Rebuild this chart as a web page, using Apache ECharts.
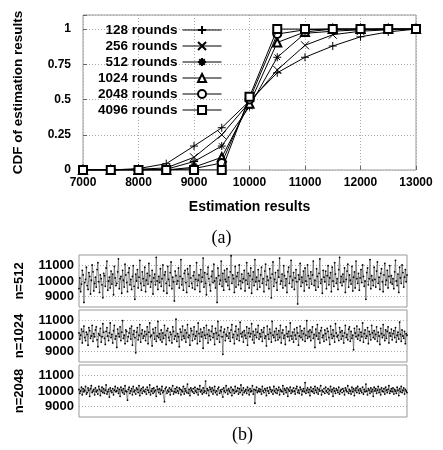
<!DOCTYPE html>
<html><head><meta charset="utf-8">
<script src="https://cdn.jsdelivr.net/npm/echarts@6/dist/echarts.min.js"></script>
<style>html,body{margin:0;padding:0;background:#fff}#c{width:443px;height:450px}</style>
</head><body><div id="c"></div>
<script>
// ---- (a) CDF chart data ----
const estimates = [7000,7500,8000,8500,9000,9500,10000,10500,11000,11500,12000,12500,13000];
const roundLabels = ['128 rounds','256 rounds','512 rounds','1024 rounds','2048 rounds','4096 rounds'];
const cdf128  = [0,0,0.01,0.045,0.17,0.30,0.49,0.69,0.80,0.88,0.945,0.98,1];
const cdf256  = [0,0,0.005,0.015,0.09,0.25,0.48,0.71,0.885,0.96,0.985,0.995,1];
const cdf512  = [0,0,0,0.005,0.06,0.17,0.45,0.80,0.97,0.985,0.995,1,1];
const cdf1024 = [0,0,0,0,0.02,0.09,0.47,0.905,0.98,1,1,1,1];
const cdf2048 = [0,0,0,0,0.01,0.05,0.50,0.965,0.995,1,1,1,1];
const cdf4096 = [0,0,0,0,0,0,0.52,1,1,1,1,1,1];
const xTicks = [7000,8000,9000,10000,11000,12000,13000];
const yTicks = [0,0.25,0.5,0.75,1];

// ---- (b) per-run estimation results ----
const panelNames = ['n=512','n=1024','n=2048'];
const panelTicks = [9000,10000,11000];
const run512 = [
9500,10200,9300,9800,10700,10400,8600,9900,10100,10900,9700,9450,10550,10300,9150,10050,11050,10600,9350,9850,
10250,9600,10750,11200,9950,9250,10400,10150,9750,8900,10500,10350,9650,10850,11300,9400,10000,10250,9550,10650,
9800,10450,9100,10950,10200,9700,9850,10600,11450,9500,10150,10300,9200,10700,10050,9600,11100,10400,9900,9300,
10550,10850,9750,10100,9450,10300,11000,9650,8800,10450,10000,10750,9550,10250,11350,9850,9400,10600,10150,9700,
10900,9300,10050,10500,9800,11150,10350,9600,9950,10700,9150,10200,10450,9750,11550,10000,9450,10300,9900,10800,
9650,10150,11050,9350,10400,10600,9850,9200,10950,10100,9700,10550,11250,9500,10250,9950,8700,10650,10350,9800,
10000,10850,9550,10300,11400,9750,10150,9400,10500,10700,9900,9250,10800,10450,9650,11000,10200,9850,9550,10350,
10600,9450,10100,11200,9700,10050,10400,9300,10750,9950,10250,11500,9600,10550,9850,9100,10450,10900,10150,9750,
9350,10300,10650,9900,11100,10000,9550,10200,8600,10850,10350,9800,10050,11300,9650,10500,9400,10700,10100,9950,
10800,9700,10250,9450,10600,11650,9850,10400,10150,9250,10950,9600,10300,10550,9750,11050,10000,9500,10450,9900,
10150,10700,9350,10050,11200,9800,10500,9550,10350,10850,9200,10100,10600,9700,11400,9950,10250,9450,10750,10000,
9600,10400,10900,9850,10150,9300,10650,11100,9750,10300,10050,9500,10800,10200,8900,10450,11250,9650,10100,10550,
9900,9400,10700,10250,11500,9800,10000,10450,9550,11000,10350,9700,10150,9250,10600,10900,9850,10300,11350,9600,
10050,10550,9450,10200,10750,9950,8500,10400,10100,11150,9650,10250,9900,10650,9350,10850,10000,9750,11050,10350,
9550,10150,10600,9800,10400,11300,9700,10050,9400,10800,10300,9600,10500,11450,9850,10100,9200,10700,10250,9950,
10650,9500,10350,11000,9750,10200,10550,9300,10900,10000,9650,11200,10450,9850,10150,9450,10750,11550,9900,10300,
9700,10450,9950,10850,9250,10100,10650,11100,9600,10400,10050,9800,10950,9350,10250,10600,9550,11300,10150,9850,
10500,9400,10200,10750,9900,11050,10300,9650,10000,8800,10550,10850,9750,10150,11400,9500,10350,10050,9700,10900,
10100,9600,10650,11250,9850,10250,9450,10500,10800,9950,9300,10400,11150,9750,10050,10700,9550,10300,11000,9900,
10350,9800,10150,9500,10600,11350,10000,9700,10450,9250,10900,10200,9850,11050,10550,9600,10250,10750,9950,10400];
const run1024 = [
10200,9800,10050,10450,9550,10300,10650,9900,9700,10250,10100,9400,10550,10350,9850,10000,10700,9650,10150,9950,
10400,10600,9750,9300,10150,10050,10500,9600,9950,10800,10250,9850,9450,10300,10550,10000,9700,10200,10850,9900,
10100,9550,10350,10700,9800,10000,9250,10450,10150,9950,10600,9700,10250,11000,9850,10050,9500,10400,10300,9650,
9950,10200,10500,9800,10650,9400,10100,10350,9900,8900,10250,10550,9750,10050,10750,9600,10150,10400,9850,10000,
10300,9700,10100,10600,9500,10250,10850,9950,10050,9350,10450,10200,9800,10550,9650,10000,10950,9900,10150,9750,
10400,9600,10200,9850,10700,10050,9450,10350,10500,9900,9700,10250,10100,9550,10600,10300,9800,10000,11100,9650,
10150,9950,9300,10450,10250,9750,10650,10000,9850,10400,9600,10200,10750,9900,10050,9400,10500,10350,9700,10100,
10600,9800,10000,10300,9500,10850,10150,9650,10450,9950,10250,9200,10550,10050,9850,10700,10100,9550,10400,10000,
9750,10300,10650,9900,10150,9450,10500,10200,9800,10950,10050,9600,10350,10600,9950,8800,10250,10450,9700,10100,
10000,10550,9850,10200,9650,10400,10750,9900,10100,9500,10300,10650,9800,10050,10450,9700,10900,10150,9950,10250,
9600,10350,10050,9850,10600,9400,10200,10500,9950,10150,10800,9750,10300,9550,10050,10450,9900,10250,10700,9800,
10150,9950,10400,9650,10250,10550,9850,10000,9350,10650,10100,9800,10450,10200,9600,10950,10050,9900,10300,9700,
10500,10100,9750,10350,9900,10700,9550,10200,10400,9850,10050,9450,10600,10150,9950,10300,9700,10850,10000,9800,
10250,9600,10450,10050,9800,10550,10200,9400,10000,10650,9900,10350,9750,10150,10500,9650,10050,11000,9850,10300,
9950,10400,9700,10250,10600,9850,10100,9250,10450,10000,10750,9800,10200,9550,10350,10550,9900,10050,9650,10400,
10150,9750,10500,10300,9900,9450,10650,10100,9850,10400,10000,9600,10800,10200,9950,10050,9700,10550,10250,9800,
10350,10000,9550,10200,10700,9900,10100,9750,10450,10600,9650,10300,9850,10050,9100,10500,10200,9950,10650,9800,
10050,10450,9700,10250,9950,10850,9600,10150,10400,9850,10000,10550,9500,10300,10100,9750,10700,10200,9900,10350,
9800,10100,10600,9650,10250,10000,9450,10500,10150,9900,10750,10050,9700,10400,9850,10300,10600,9550,10200,10000,
10450,9750,10150,10350,9900,10550,9600,10050,10250,9800,10900,10100,9650,10400,10000,9850,10300,9500,10150,10050];
const run2048 = [
10100,9850,10000,10250,9750,10150,9950,10050,10300,9800,9900,10200,10050,9650,10150,10350,9900,10000,10100,9750,
10200,9950,10050,9800,10300,10100,9700,10000,10250,9900,10150,9850,10050,10400,9800,9950,10100,9600,10200,10000,
9900,10150,9750,10050,10300,9950,10000,10200,9850,10100,9650,10250,10050,9900,10150,9800,10350,10000,9950,9400,
10100,10250,9850,10000,10150,9750,10300,9950,10050,9800,10200,10100,9900,10350,9700,10050,10150,9850,10250,10000,
9950,10100,9800,10250,10050,9900,10400,9750,10000,10150,9850,10200,9950,10050,9650,10300,10100,9900,10150,9800,
10050,10300,9900,10000,9300,10150,10250,9850,10050,9950,10200,9750,10100,10000,10350,9800,9950,10150,9900,10250,
10000,9850,10200,10100,9750,10050,9950,10300,9800,10150,10000,9900,10450,9850,10100,9700,10200,10050,9950,10150,
9850,10250,10000,9900,10150,9750,10100,10350,9950,10050,9800,10200,9900,10000,10650,9850,10150,10050,9700,10250,
10100,9950,10200,9800,10050,10300,9900,10000,9750,10150,10250,9850,10050,9950,10100,9600,10200,10000,9900,10350,
10050,9800,10150,10000,9900,10250,9700,10100,10050,9850,10300,9950,10000,10200,9800,10150,9900,10400,10050,9750,
10200,9900,10000,10100,9850,10250,10050,9750,10150,9950,10000,10350,9800,10100,9200,10050,10250,9900,10000,10150,
9950,10100,9800,10300,10000,9900,10150,10050,9700,10200,10000,9850,10250,10100,9950,10050,9800,10300,10000,9900,
10150,9850,10050,10250,9750,10100,10000,9950,10350,9800,10150,10050,9900,10200,9650,10100,10000,10250,9850,10050,
9950,10200,10000,9800,10150,10300,9900,10050,9850,10250,10100,9750,10000,10150,9950,10550,9850,10050,10200,9900,
10100,9700,10250,10000,9950,10150,9850,10300,10050,9900,10200,9800,10100,10000,10350,9750,10050,9950,10150,9850,
10250,10000,9900,10150,9800,10050,10300,9950,10100,9650,10200,10000,9850,10150,10050,9900,10250,9800,10000,10100,
9900,10150,10000,9750,10200,10050,9950,10350,9850,10100,10000,9800,10250,9950,10150,9700,10050,10200,9900,10300,
10050,9850,10150,10000,9900,10250,9800,10100,9950,10450,10000,9750,10150,10050,9850,10200,9950,10100,9650,10250,
10000,10150,9850,10050,10300,9900,10100,9750,10200,10000,9950,10150,9800,10250,10050,9900,10100,10350,9850,10000,
10150,9950,10200,9800,10100,10000,9850,10250,10050,9700,10150,9950,10300,9900,10050,10200,9800,10100,10000,9900];

const cdfs = [cdf128,cdf256,cdf512,cdf1024,cdf2048,cdf4096];
const runs = [run512,run1024,run2048];

const FONT = 'Liberation Sans';
const symbols = [
  'path://M0,5L10,5M5,0L5,10',
  'path://M0,0L10,10M0,10L10,0',
  'path://M0,5L10,5M5,0L5,10M1.5,1.5L8.5,8.5M1.5,8.5L8.5,1.5',
  'emptyTriangle','emptyCircle','emptyRect'
];
const gridLine = {show:true, lineStyle:{color:'#aaa', type:[1,2], width:1}};

const grids = [{left:83, right:27, top:15, height:155, show:true, borderColor:'#999', borderWidth:1}];
const panelTops = [255,310,365];
panelTops.forEach(t => grids.push({left:79, right:36, top:t, height:52, show:true, borderColor:'#999', borderWidth:1}));

const xAxes = [{
  gridIndex:0, type:'value', min:7000, max:13000, interval:1000,
  name:'Estimation results', nameLocation:'middle', nameGap:30,
  nameTextStyle:{fontFamily:FONT, fontWeight:'bold', fontSize:14, color:'#000'},
  axisLine:{show:false}, axisTick:{show:true, inside:true, length:4, lineStyle:{color:'#666'}},
  axisLabel:{fontFamily:FONT, fontWeight:'bold', fontSize:12, color:'#000', margin:7,
    formatter: v => xTicks.includes(v) ? String(v) : ''},
  splitLine:gridLine
}];
const yAxes = [{
  gridIndex:0, type:'value', min:0, max:1.1, interval:0.25,
  name:'CDF of estimation results', nameLocation:'middle', nameGap:58,
  nameTextStyle:{fontFamily:FONT, fontWeight:'bold', fontSize:13.5, color:'#000'},
  axisLine:{show:false}, axisTick:{show:true, inside:true, length:4, lineStyle:{color:'#666'}},
  axisLabel:{fontFamily:FONT, fontWeight:'bold', fontSize:12, color:'#000', margin:12,
    formatter: v => yTicks.some(t => Math.abs(t - v) < 1e-9) ? String(v) : ''},
  splitLine:gridLine
}];
panelNames.forEach((nm, i) => {
  xAxes.push({gridIndex:i+1, type:'category', boundaryGap:false,
    data: runs[i].map((_, k) => k + 1),
    axisLine:{show:false}, axisTick:{show:false}, axisLabel:{show:false}, splitLine:{show:false}});
  yAxes.push({gridIndex:i+1, type:'value', min:8300, max:11700, interval:100,
    name:nm, nameLocation:'middle', nameGap:53,
    nameTextStyle:{fontFamily:FONT, fontWeight:'bold', fontSize:13, color:'#000'},
    axisLine:{show:false}, axisTick:{show:false}, splitLine:{show:false},
    axisLabel:{fontFamily:FONT, fontWeight:'bold', fontSize:13, color:'#000', margin:5,
      formatter: v => panelTicks.includes(v) ? String(v) : ''}});
});

const series = [];
roundLabels.forEach((nm, i) => {
  series.push({
    name:nm, type:'line', xAxisIndex:0, yAxisIndex:0,
    data: estimates.map((x, k) => [x, cdfs[i][k]]),
    symbol: symbols[i], symbolSize: 8, showAllSymbol:true,
    lineStyle:{color:'#000', width:1},
    itemStyle:{color:'#000', borderColor:'#000', borderWidth:1},
    z: 3 + i, animation:false
  });
});
runs.forEach((r, i) => {
  series.push({
    type:'line', xAxisIndex:i+1, yAxisIndex:i+1, data:r,
    symbol:'circle', symbolSize:1.8, showAllSymbol:true,
    lineStyle:{color:'#444', width:0.6},
    itemStyle:{color:'#000'},
    markLine:{silent:true, symbol:'none', label:{show:false}, z:1,
      lineStyle:{color:'#aaa', type:[1,2], width:1},
      data: panelTicks.map(v => ({yAxis:v}))},
    animation:false
  });
});

const chart = echarts.init(document.getElementById('c'), null, {renderer:'canvas'});
chart.setOption({
  backgroundColor:'#fff',
  animation:false,
  grid: grids, xAxis: xAxes, yAxis: yAxes, series: series,
  legend:{
    data: roundLabels, orient:'vertical', align:'right', left:98, top:23, padding:0,
    itemWidth:39, itemHeight:10, itemGap:2,
    lineStyle:{width:1},
    textStyle:{fontFamily:FONT, fontWeight:'bold', fontSize:13.5, color:'#000'}
  },
  graphic:[
    {type:'text', left:'center', top:229, style:{text:'(a)', font:'18px "Liberation Serif"', fill:'#000'}},
    {type:'text', left:232, top:426, style:{text:'(b)', font:'18px "Liberation Serif"', fill:'#000'}}
  ]
});
</script></body></html>
